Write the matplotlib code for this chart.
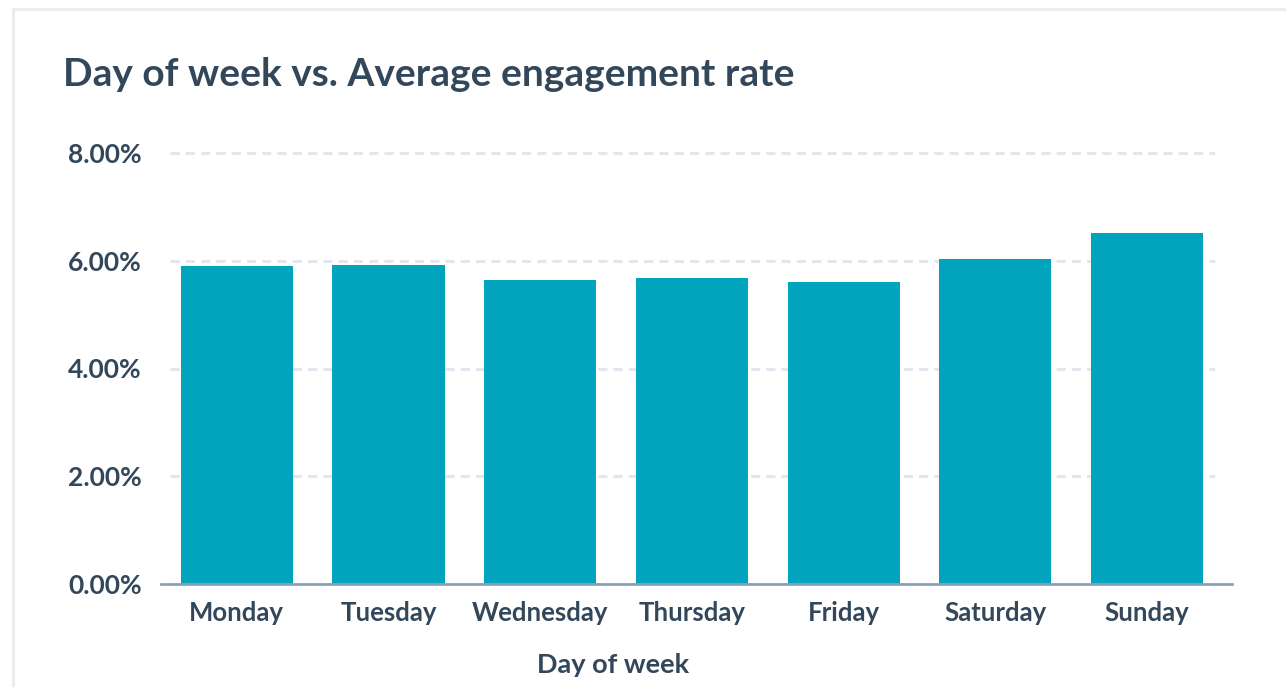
import matplotlib
matplotlib.use("Agg")
import matplotlib.pyplot as plt
from matplotlib.patches import Rectangle
from matplotlib.ticker import FuncFormatter

days = ["Monday", "Tuesday", "Wednesday", "Thursday", "Friday", "Saturday", "Sunday"]
engagement = [5.90, 5.92, 5.64, 5.68, 5.60, 6.03, 6.51]
y_ticks = [0, 2, 4, 6, 8]

TEXT = "#33475b"
BAR = "#00a4bd"
GRID = "#e1e7ef"
BASE = "#8aa1bd"

plt.rcParams["font.family"] = ["Lato", "DejaVu Sans"]

W, H = 1286, 687
fig = plt.figure(figsize=(W / 100, H / 100), dpi=100)

# card border behind everything
fig.patches.append(Rectangle((13 / W, -0.1), 1.2, 1 - 9 / H + 0.1,
                             transform=fig.transFigure, facecolor="white",
                             edgecolor="#ececec", linewidth=2.2, zorder=-5))

ax = fig.add_axes([161 / W, 1 - 584 / H, (1232 - 161) / W, (584 - 153) / H])
ax.set_facecolor("none")

x = range(len(days))
ax.bar(x, engagement, width=0.74, color=BAR, zorder=3)

ax.set_xlim(-0.5, 6.56)
ax.set_ylim(0, 8)

for t in y_ticks[1:]:
    ax.hlines(t, -0.44, 6.45, colors=GRID, linestyles=(0, (3, 2)),
              linewidth=2.2, zorder=1, clip_on=False)

for s in ["top", "right", "left"]:
    ax.spines[s].set_visible(False)
ax.spines["bottom"].set_color(BASE)
ax.spines["bottom"].set_linewidth(2)
ax.spines["bottom"].set_zorder(4)

ax.set_yticks(y_ticks)
ax.yaxis.set_major_formatter(FuncFormatter(lambda v, p: f"{v:.2f}%"))
ax.set_xticks(list(x))
ax.set_xticklabels(days)
ax.tick_params(axis="y", length=0, pad=14, labelsize=19, labelcolor=TEXT)
ax.tick_params(axis="x", length=0, pad=12, labelsize=18.5, labelcolor=TEXT)
for lbl in ax.get_xticklabels() + ax.get_yticklabels():
    lbl.set_fontweight("bold")

fig.text(613 / W, 1 - 665 / H, "Day of week", ha="center", va="center",
         fontsize=19.5, fontweight="bold", color=TEXT)
fig.text(63 / W, 1 - 86 / H, "Day of week vs. Average engagement rate",
         ha="left", va="baseline", fontsize=28, fontweight="bold", color=TEXT)

fig.savefig("out.png", dpi=100)
